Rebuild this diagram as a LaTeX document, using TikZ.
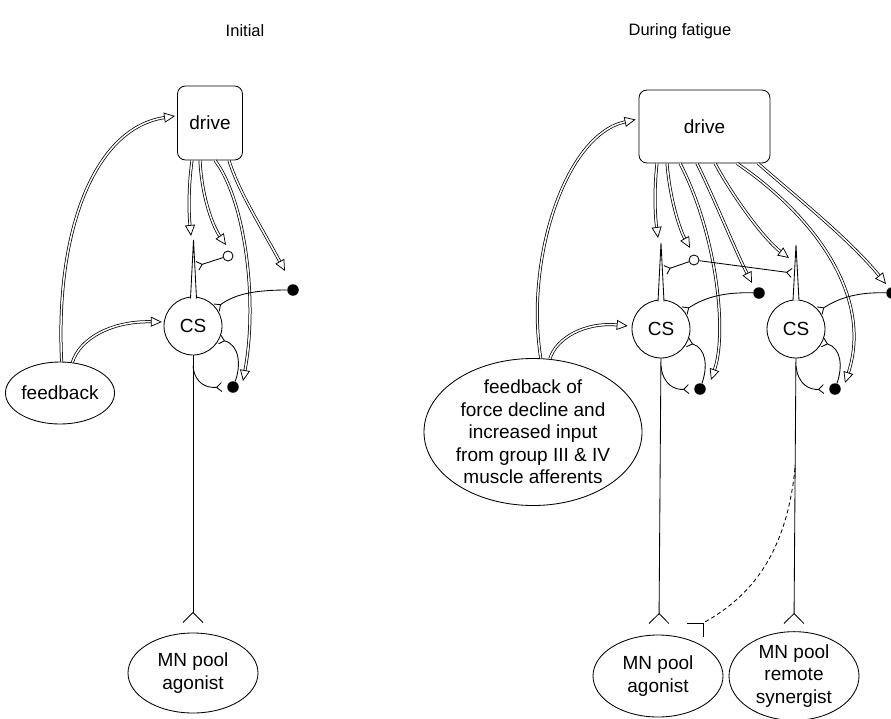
\documentclass[tikz,border=0pt]{standalone}
\usepackage{fontspec}
\setmainfont{Liberation Sans}
\usetikzlibrary{arrows.meta,shapes.geometric}
\begin{document}
\begin{tikzpicture}[x=1pt,y=-1pt,
  txt/.style={font=\fontsize{19}{22.5}\selectfont},
  ttl/.style={font=\fontsize{16.5}{19}\selectfont},
  ln/.style={line width=0.85pt},
  boxnode/.style={draw, ln, rounded corners=8pt, inner sep=0pt, txt},
  cellnode/.style={draw, ln, circle, inner sep=0pt, minimum size=58pt, txt, fill=white},
  ovalnode/.style={draw, ln, ellipse, inner sep=0pt, align=center, txt},
  opennode/.style={draw, ln, circle, inner sep=0pt, minimum size=10pt, fill=white},
  dotnode/.style={fill, circle, inner sep=0pt, minimum size=11.5pt},
  excite/.style={line width=0.75pt, double, double distance=1.5pt, -{Triangle[open,length=11pt,width=10pt]}},
  syn/.style={ln, -{Straight Barb[reversed,length=5pt,width=9pt]}},
  bigsyn/.style={ln, -{Straight Barb[reversed,length=10pt,width=20pt]}},
  spike/.style={ln, fill=white},
]
\useasboundingbox (0,0) rectangle (891,718);

% ---------------- titles ----------------
\node[ttl] (titleL) at (245,31) {Initial};
\node[ttl] (titleR) at (680,31) {During fatigue};

% ================= left panel =================
\node[boxnode, minimum width=65pt, minimum height=74pt] (driveL) at (210,123) {drive};
\node[ovalnode, minimum width=96pt, minimum height=62pt] (fbL) at (60,393) {feedback};
\node[ovalnode, minimum width=130pt, minimum height=80pt] (mnL) at (193,673) {MN pool\\agonist};
\node[opennode] (oL) at (228,256) {};
\node[dotnode] (uL) at (293,290) {};
\node[dotnode] (lL) at (233,387) {};
\coordinate (spL) at (193.5,240);
\coordinate (axL) at (193,366);

% axon to the motoneurone pool
\draw[bigsyn] (193,350) -- (193,623);
\node[cellnode] (csL) at (193,326) {CS};
\draw[spike] (190.5,298.5) -- (spL) -- (196.5,298.5);

% drive projections
\draw[excite] ([xshift=-18pt]driveL.south) .. controls (188,190) and (189,215) .. (191,236);
\draw[excite] ([xshift=-10pt]driveL.south) .. controls (202,200) and (214,228) .. (226,245);
\draw[excite] ([xshift=5pt]driveL.south) .. controls (245,200) and (258,300) .. (243,381);
\draw[excite] ([xshift=19pt]driveL.south) .. controls (238,190) and (260,225) .. (285,271);

% feedback
\draw[excite] (fbL.87) .. controls (55,230) and (95,128) .. ([yshift=7pt,xshift=-2pt]driveL.west);
\draw[excite] (fbL.68) .. controls (80,338) and (112,321) .. ([xshift=-2pt]csL.172);

% interneurones
\draw[syn] (oL) -- (197,266);
\draw[syn] (uL) .. controls (255,290) and (235,294) .. (csL.38);
\draw[syn] (lL) .. controls (241,366) and (240,345) .. (csL.-27);
\draw[syn] (axL) .. controls (195,385) and (208,388) .. ([xshift=-5pt]lL.west);

% ================= right panel =================
\node[boxnode, minimum width=131pt, minimum height=73pt] (driveR) at (704.5,126.5) {drive};
\node[ovalnode, minimum width=214pt, minimum height=142pt] (fbR) at (533,432)
  {feedback of\\force decline and\\increased input\\from group III \& IV\\muscle afferents};
\node[ovalnode, minimum width=130pt, minimum height=82pt] (mnA) at (658,676) {MN pool\\agonist};
\node[ovalnode, minimum width=130pt, minimum height=82pt] (mnB) at (794,676) {MN pool\\remote\\synergist};
\node[opennode] (oR) at (694,260) {};
\node[dotnode] (uA) at (759,293) {};
\node[dotnode] (lA) at (700,389) {};
\node[dotnode] (uB) at (892,293) {};
\node[dotnode] (lB) at (835,389) {};
\coordinate (spA) at (661,243);
\coordinate (spB) at (796,245);
\coordinate (axA) at (661,366);
\coordinate (axB) at (796,366);
\coordinate (dashStart) at (795,468);
\coordinate (inh) at (703,623);

% axons
\draw[bigsyn] (661,350) -- (659,624);
\draw[bigsyn] (796,350) -- (794,624);
\node[cellnode] (csA) at (661,329) {CS};
\node[cellnode] (csB) at (796,329) {CS};
\draw[spike] (658,301.5) -- (spA) -- (664,301.5);
\draw[spike] (793,300.5) -- (spB) -- (799,300.5);

% drive projections
\draw[excite] ([xshift=-47.5pt]driveR.south) .. controls (654,190) and (655,215) .. (658,238);
\draw[excite] ([xshift=-37.5pt]driveR.south) .. controls (670,200) and (680,230) .. (690,248);
\draw[excite] ([xshift=-24.5pt]driveR.south) .. controls (715,230) and (728,330) .. (711,380);
\draw[excite] ([xshift=-7.5pt]driveR.south) .. controls (715,200) and (735,250) .. (752,283);
\draw[excite] ([xshift=10.5pt]driveR.south) .. controls (735,200) and (765,240) .. (789,258);
\draw[excite] ([xshift=32.5pt]driveR.south) .. controls (820,220) and (872,300) .. (845,383);
\draw[excite] ([xshift=53.5pt]driveR.south) .. controls (800,200) and (850,240) .. (886,284);

% feedback
\draw[excite] (fbR.84) .. controls (525,260) and (565,135) .. ([yshift=7pt,xshift=-3pt]driveR.west);
\draw[excite] (fbR.77) .. controls (556,338) and (585,322) .. ([xshift=-4pt]csA.174);

% interneurones
\draw[syn] (oR) -- (665,270);
\draw[syn] (oR) -- (792,273);
\draw[syn] (uA) .. controls (725,292) and (705,297) .. (csA.38);
\draw[syn] (uB) .. controls (860,292) and (840,297) .. (csB.38);
\draw[syn] (lA) .. controls (708,366) and (706,348) .. (csA.-27);
\draw[syn] (lB) .. controls (843,366) and (841,348) .. (csB.-27);
\draw[syn] (axA) .. controls (663,385) and (675,390) .. ([xshift=-5pt]lA.west);
\draw[syn] (axB) .. controls (798,385) and (810,390) .. ([xshift=-5pt]lB.west);

% inhibition of the agonist pool
\draw[ln, dashed, dash pattern=on 4pt off 3pt] (dashStart) .. controls (786,560) and (745,600) .. (inh);
\draw[ln] (687,623) -- (inh) -- (703,637);
\end{tikzpicture}
\end{document}
